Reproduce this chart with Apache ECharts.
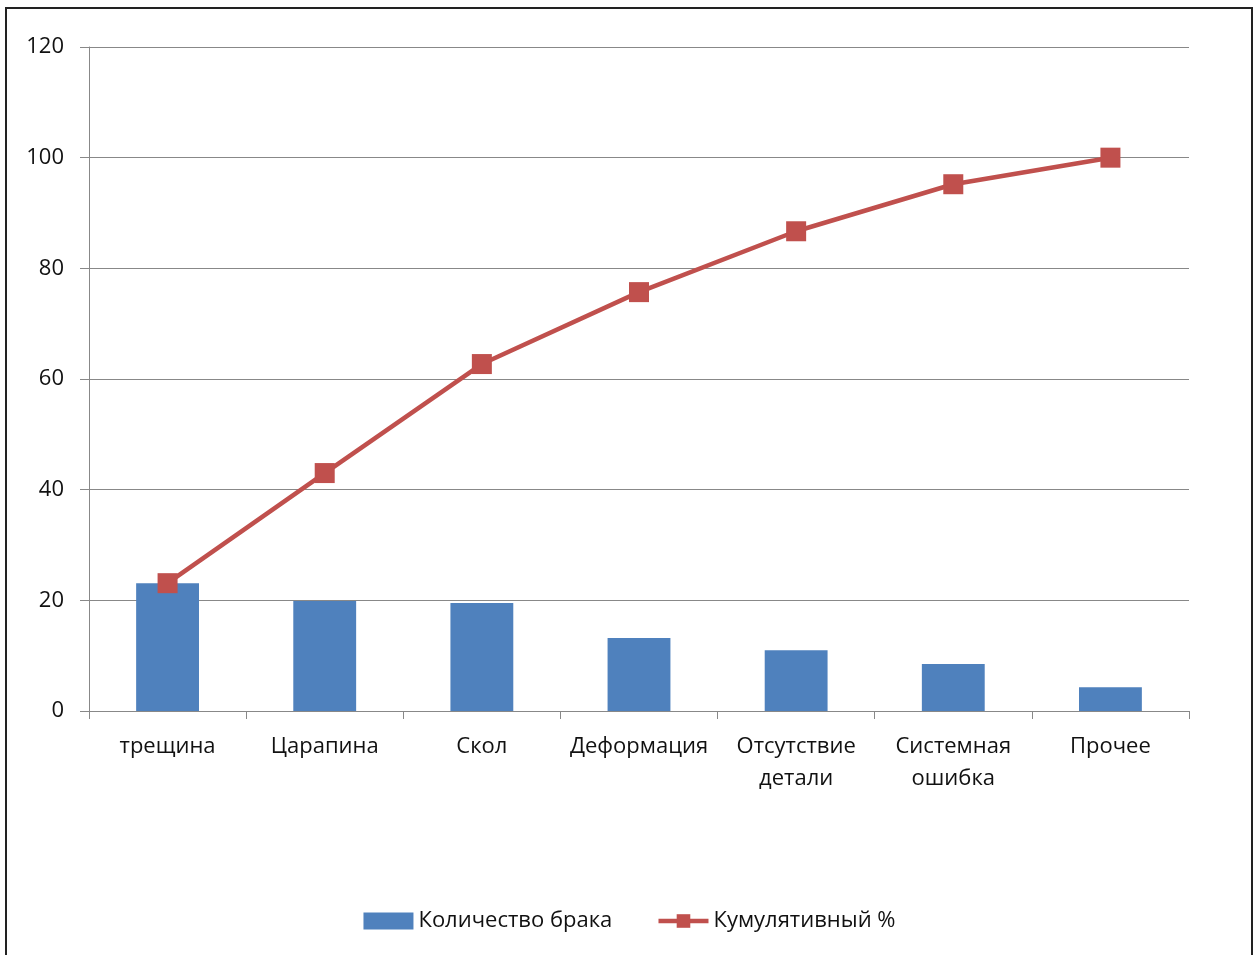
<!DOCTYPE html>
<html>
<head>
<meta charset="utf-8">
<script src="https://cdn.jsdelivr.net/npm/echarts@6/dist/echarts.min.js"></script>
<style>
  html, body { margin: 0; padding: 0; background: #fff; }
  #chart { width: 1259px; height: 955px; }
</style>
</head>
<body>
<div id="chart"></div>
<script>
var categories = ['трещина', 'Царапина', 'Скол', 'Деформация', 'Отсутствие\nдетали', 'Системная\nошибка', 'Прочее'];
var defects = [23.1, 19.9, 19.5, 13.2, 11.0, 8.5, 4.3];
var cumulative = [23.1, 43.0, 62.7, 75.7, 86.7, 95.2, 100];
var yTicks = [0, 20, 40, 60, 80, 100, 120];

var myChart = echarts.init(document.getElementById('chart'));
var font = '"Open Sans", sans-serif';

myChart.setOption({
	animation: false,
	backgroundColor: '#fff',
	graphic: [{
		type: 'rect',
		shape: { x: 6, y: 8, width: 1246, height: 960 },
		style: { fill: 'none', stroke: '#222', lineWidth: 2 }
	}],
	grid: { left: 89, right: 70, top: 47, bottom: 244 },
	legend: {
		top: 905,
		left: 'center',
		itemWidth: 50,
		itemHeight: 17,
		itemGap: 44,
		textStyle: { fontFamily: font, fontSize: 22, color: '#111' },
		data: [
			{ name: 'Количество брака', icon: 'rect' },
			{ name: 'Кумулятивный %', lineStyle: { width: 4.5 } }
		]
	},
	xAxis: {
		type: 'category',
		data: categories,
		axisLine: { lineStyle: { color: '#888', width: 1 } },
		axisTick: { show: true, length: 8, lineStyle: { color: '#888' } },
		axisLabel: {
			interval: 0,
			margin: 20,
			fontFamily: font,
			fontSize: 22,
			lineHeight: 32,
			color: '#111'
		}
	},
	yAxis: {
		type: 'value',
		min: yTicks[0],
		max: yTicks[yTicks.length - 1],
		interval: 20,
		axisLine: { show: true, lineStyle: { color: '#888' } },
		axisTick: { show: true, length: 9, lineStyle: { color: '#888' } },
		axisLabel: { margin: 25, fontFamily: font, fontSize: 22, color: '#111' },
		splitLine: { lineStyle: { color: '#888', width: 1 } }
	},
	series: [
		{
			name: 'Количество брака',
			type: 'bar',
			data: defects,
			barWidth: '40%',
			itemStyle: { color: '#4F81BD' }
		},
		{
			name: 'Кумулятивный %',
			type: 'line',
			data: cumulative,
			symbol: 'rect',
			symbolSize: 20,
			lineStyle: { color: '#C0504D', width: 4.5 },
			itemStyle: { color: '#C0504D' }
		}
	]
});
</script>
</body>
</html>
